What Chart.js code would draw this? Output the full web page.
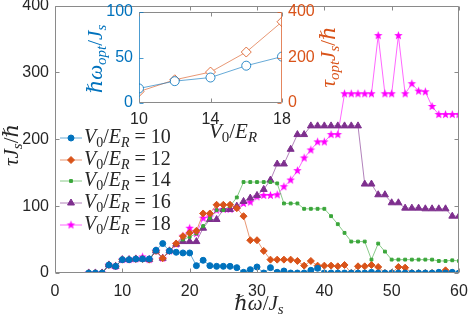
<!DOCTYPE html>
<html>
<head>
<meta charset="utf-8">
<script src="https://cdn.jsdelivr.net/npm/chart.js@4.4.0/dist/chart.umd.min.js"></script>
<style>
  html, body { margin: 0; padding: 0; background: #fff; }
  #wrap { position: relative; width: 469px; height: 315px; }
  #wrap canvas { position: absolute; left: 0; top: 0; }
</style>
</head>
<body>
<div id="wrap">
  <canvas id="main" width="469" height="315"></canvas>
  <canvas id="inset" width="469" height="315"></canvas>
</div>
<script>
// Data (tau J_s / hbar vs hbar omega / J_s)

const omega = [5, 6, 7, 8, 9, 10, 11, 12, 13, 14, 15, 16, 17, 18, 19, 20, 21, 22, 23, 24,
  25, 26, 27, 28, 29, 30, 31, 32, 33, 34, 35, 36, 37, 38, 39, 40, 41, 42, 43, 44,
  45, 46, 47, 48, 49, 50, 51, 52, 53, 54, 55, 56, 57, 58, 59, 60];

const tauV10 = [0, 0, 0, 12, 10, 20, 20, 21, 21, 21, 34, 44, 33, 31, 30, 30, 11, 19, 11, 10,
  10, 10, 8, 1, 5, 9, 0, 8, 1, 3, 0, 0, 0, 4, 7, 0, 0, 0, 0, 0,
  0, 0, 1, 0, 0, 0, 0, 0, 0, 0, 0, 0, 1, 0, 1, 0];

const tauV12 = [0, 0, 0, 12, 10, 20, 20, 21, 21, 20, 33, 22, 33, 44, 55, 60, 63, 89, 89, 102,
  102, 102, 97, 85, 49, 49, 33, 20, 20, 20, 20, 18, 11, 18, 11, 11, 11, 10, 12, 0,
  10, 10, 12, 9, 0, 0, 9, 8, 0, 0, 0, 0, 0, 4, 0, 0];

const tauV14 = [0, 0, 0, 12, 10, 20, 20, 21, 21, 20, 33, 22, 33, 44, 50, 54, 59, 70, 82, 94,
  94, 100, 113, 136, 136, 136, 136, 136, 134, 104, 104, 104, 96, 96, 96, 96, 85, 73, 60, 47,
  47, 47, 20, 44, 32, 20, 20, 20, 20, 20, 20, 20, 18, 18, 19, 18];

const tauV16 = [0, 0, 0, 12, 10, 20, 20, 21, 21, 20, 33, 22, 33, 43, 47, 47, 47, 67, 80, 80,
  95, 95, 100, 107, 112, 116, 125, 139, 163, 163, 185, 207, 207, 220, 220, 220, 220, 220, 220, 220,
  220, 133, 133, 117, 117, 105, 105, 97, 97, 97, 96, 96, 96, 96, 85, 85];

const tauV18 = [0, 0, 0, 12, 10, 20, 20, 21, 24, 20, 33, 22, 33, 43, 55, 67, 59, 82, 84, 94,
  95, 95, 98, 104, 106, 114, 116, 116, 117, 129, 139, 153, 172, 184, 196, 196, 207, 207, 268, 268,
  268, 268, 268, 355, 268, 268, 355, 268, 283, 272, 271, 249, 237, 237, 237, 237];

// inset: optimum vs lattice depth
const insetV0 = [10, 12, 14, 16, 18];
const insetOmegaOpt = [16, 24, 28, 41, 51];
const insetTauOpt = [50, 102, 136, 224, 357];

const legendValues = ['10', '12', '14', '16', '18'];

const BLUE = '#0072BD';
const ORANGE = '#D95319';
const GREEN = '#3AA63A';
const PURPLE = '#7E2F8E';
const MAGENTA = '#FF00FF';
const AXIS = '#262626';
const SERIF = "'Liberation Serif', 'DejaVu Serif', serif";
const SANS = "'Liberation Sans', Arial, sans-serif";

function fade(hex, a) {
    const n = parseInt(hex.slice(1), 16);
    return 'rgba(' + (n >> 16) + ',' + ((n >> 8) & 255) + ',' + (n & 255) + ',' + a + ')';
}

function makeStar(color, r) {
    const c = document.createElement('canvas');
    const s = Math.ceil(2 * r + 2);
    c.width = s;
    c.height = s;
    const g = c.getContext('2d');
    g.fillStyle = color;
    g.beginPath();
    for (let i = 0; i < 10; i++) {
        const ang = -Math.PI / 2 + i * Math.PI / 5;
        const rad = i % 2 ? r * 0.42 : r;
        g.lineTo(s / 2 + rad * Math.cos(ang), s / 2 + rad * Math.sin(ang));
    }
    g.closePath();
    g.fill();
    return c;
}

function pts(ys) {
    return omega.map((w, i) => ({ x: w, y: ys[i] }));
}

// simple TeX-like text: parts are [text, style], style i / r / sub / subr
function partFont(style, size) {
    const sub = style === 'sub' || style === 'subr';
    const it = style === 'i' || style === 'sub';
    return (it ? 'italic ' : '') + (sub ? Math.round(size * 0.7) : size) + 'px ' + SERIF;
}

function mathWidth(ctx, parts, size) {
    let w = 0;
    parts.forEach(p => {
        ctx.font = partFont(p[1], size);
        w += ctx.measureText(p[0]).width;
    });
    return w;
}

function drawMath(ctx, parts, x, y, size, color, align, rotate) {
    ctx.save();
    ctx.translate(x, y);
    if (rotate) ctx.rotate(-Math.PI / 2);
    ctx.fillStyle = color;
    ctx.textBaseline = 'middle';
    ctx.textAlign = 'left';
    const w = mathWidth(ctx, parts, size);
    let cx = align === 'left' ? 0 : -w / 2;
    parts.forEach(p => {
        ctx.font = partFont(p[1], size);
        const sub = p[1] === 'sub' || p[1] === 'subr';
        ctx.fillText(p[0], cx, sub ? size * 0.28 : 0);
        cx += ctx.measureText(p[0]).width;
    });
    ctx.restore();
}

const starImg = makeStar(MAGENTA, 4.5);

const series = [
    { data: tauV10, color: BLUE, style: 'circle', r: 3 },
    { data: tauV12, color: ORANGE, style: 'rectRot', r: 3.5 },
    { data: tauV14, color: GREEN, style: 'rect', r: 2 },
    { data: tauV16, color: PURPLE, style: 'triangle', r: 4 },
    { data: tauV18, color: MAGENTA, style: starImg, r: 4.5 }
];

// frame with inward ticks, MATLAB style
function drawFrame(chart, xs, ys, colors) {
    const ctx = chart.ctx;
    const a = chart.chartArea;
    const L = 4;
    ctx.save();
    ctx.lineWidth = 1;
    const seg = (c, x1, y1, x2, y2) => {
        ctx.strokeStyle = c;
        ctx.beginPath();
        ctx.moveTo(x1, y1);
        ctx.lineTo(x2, y2);
        ctx.stroke();
    };
    const l = Math.round(a.left) + 0.5, r = Math.round(a.right) - 0.5;
    const t = Math.round(a.top) + 0.5, b = Math.round(a.bottom) - 0.5;
    seg(colors.top, l, t, r, t);
    seg(colors.bottom, l, b, r, b);
    seg(colors.left, l, t, l, b);
    seg(colors.right, r, t, r, b);
    const sx = chart.scales.x;
    xs.forEach(v => {
        const px = Math.round(sx.getPixelForValue(v)) + 0.5;
        seg(colors.bottom, px, b, px, b - L);
        seg(colors.top, px, t, px, t + L);
    });
    ys.forEach(([scaleId, v, side]) => {
        const py = Math.round(chart.scales[scaleId].getPixelForValue(v)) + 0.5;
        if (side !== 'right') seg(colors.left, l, py, l + L, py);
        if (side !== 'left') seg(colors.right, r, py, r - L, py);
    });
    ctx.restore();
}

const mainDecor = {
    id: 'mainDecor',
    afterDatasetsDraw(chart) {
        const ctx = chart.ctx;
        drawFrame(chart, [0, 10, 20, 30, 40, 50, 60],
            [0, 100, 200, 300, 400].map(v => ['y', v, 'both']),
            { top: '#8a8a8a', bottom: '#8a8a8a', left: '#8a8a8a', right: '#8a8a8a' });

        // axis titles
        drawMath(ctx, [['τ', 'i'], ['J', 'i'], ['s', 'sub'], ['/', 'r'], ['ℏ', 'i']],
            12, 145, 21, AXIS, 'center', true);
        drawMath(ctx, [['ℏ', 'i'], ['ω', 'i'], ['/', 'r'], ['J', 'i'], ['s', 'sub']],
            259, 304, 21, AXIS, 'center', false);

        // legend
        const ly = [138, 160, 181, 203, 225];
        chart.data.datasets.forEach((ds, i) => {
            const y = ly[i];
            ctx.save();
            ctx.strokeStyle = ds.borderColor;
            ctx.lineWidth = 1;
            ctx.beginPath();
            ctx.moveTo(60, y);
            ctx.lineTo(82, y);
            ctx.stroke();
            ctx.fillStyle = ds.pointBackgroundColor;
            ctx.strokeStyle = ds.pointBorderColor;
            ctx.lineWidth = 1;
            Chart.helpers.drawPoint(ctx, { pointStyle: ds.pointStyle, radius: ds.pointRadius, borderWidth: 1, rotation: 0 }, 71, y);
            ctx.restore();
            drawMath(ctx, [['V', 'i'], ['0', 'subr'], ['/', 'r'], ['E', 'i'], ['R', 'sub'],
                [' = ', 'r'], [legendValues[i], 'r']], 84, y, 20, AXIS, 'left', false);
        });
    }
};

new Chart(document.getElementById('main'), {
    type: 'line',
    data: {
        datasets: series.map(s => ({
            data: pts(s.data),
            borderColor: fade(s.color, 0.6),
            borderWidth: 1,
            pointStyle: s.style,
            pointRadius: s.r,
            pointBackgroundColor: s.color,
            pointBorderColor: s.color,
            pointBorderWidth: 1,
            tension: 0
        }))
    },
    options: {
        responsive: false,
        animation: false,
        events: [],
        layout: { padding: { top: 5, right: 10, left: 0, bottom: 0 } },
        plugins: { legend: { display: false }, tooltip: { enabled: false } },
        scales: {
            x: {
                type: 'linear', min: 0, max: 60,
                grid: { display: false, drawTicks: false },
                border: { display: false },
                ticks: { stepSize: 10, padding: 9, color: AXIS, font: { family: SANS, size: 16 } },
                afterFit: s => { s.height = 42; s.paddingLeft = 0; s.paddingRight = 0; }
            },
            y: {
                min: 0, max: 400,
                grid: { display: false, drawTicks: false },
                border: { display: false },
                ticks: { stepSize: 100, padding: 6, color: AXIS, font: { family: SANS, size: 16 } },
                afterFit: s => { s.width = 55; s.paddingTop = 0; s.paddingBottom = 0; }
            }
        }
    },
    plugins: [mainDecor]
});

const insetDecor = {
    id: 'insetDecor',
    beforeDatasetsDraw(chart) {
        const a = chart.chartArea;
        chart.ctx.save();
        chart.ctx.fillStyle = '#ffffff';
        chart.ctx.fillRect(a.left, a.top, a.right - a.left, a.bottom - a.top);
        chart.ctx.restore();
    },
    afterDatasetsDraw(chart) {
        const ctx = chart.ctx;
        drawFrame(chart, [10, 14, 18],
            [['y', 0, 'left'], ['y', 50, 'left'], ['y', 100, 'left'],
             ['y1', 0, 'right'], ['y1', 200, 'right'], ['y1', 400, 'right']],
            { top: '#8a8a8a', bottom: '#8a8a8a', left: fade(BLUE, 0.7), right: fade(ORANGE, 0.7) });

        drawMath(ctx, [['ℏ', 'i'], ['ω', 'i'], ['opt', 'sub'], ['/', 'r'], ['J', 'i'], ['s', 'sub']],
            96, 59, 21, BLUE, 'center', true);
        drawMath(ctx, [['τ', 'i'], ['opt', 'sub'], ['J', 'i'], ['s', 'sub'], ['/', 'r'], ['ℏ', 'i']],
            329, 57, 21, ORANGE, 'center', true);
        drawMath(ctx, [['V', 'i'], ['0', 'subr'], ['/', 'r'], ['E', 'i'], ['R', 'sub']],
            233, 132, 21, AXIS, 'center', false);
    }
};

new Chart(document.getElementById('inset'), {
    type: 'line',
    data: {
        datasets: [
            {
                data: insetV0.map((v, i) => ({ x: v, y: insetOmegaOpt[i] })),
                yAxisID: 'y',
                borderColor: fade(BLUE, 0.6),
                borderWidth: 1,
                pointStyle: 'circle',
                pointRadius: 4.5,
                pointBackgroundColor: '#ffffff',
                pointBorderColor: fade(BLUE, 0.8),
                pointBorderWidth: 1
            },
            {
                data: insetV0.map((v, i) => ({ x: v, y: insetTauOpt[i] })),
                yAxisID: 'y1',
                borderColor: fade(ORANGE, 0.6),
                borderWidth: 1,
                pointStyle: 'rectRot',
                pointRadius: 5,
                pointBackgroundColor: '#ffffff',
                pointBorderColor: fade(ORANGE, 0.8),
                pointBorderWidth: 1
            }
        ]
    },
    options: {
        responsive: false,
        animation: false,
        events: [],
        layout: { padding: { top: 12, right: 0, left: 0, bottom: 0 } },
        plugins: { legend: { display: false }, tooltip: { enabled: false } },
        scales: {
            x: {
                type: 'linear', min: 10, max: 18,
                grid: { display: false, drawTicks: false },
                border: { display: false },
                ticks: { stepSize: 4, padding: 7, color: AXIS, font: { family: SANS, size: 16 } },
                afterFit: s => { s.height = 212; s.paddingLeft = 0; s.paddingRight = 0; }
            },
            y: {
                position: 'left', min: 0, max: 100,
                grid: { display: false, drawTicks: false },
                border: { display: false },
                ticks: { stepSize: 50, padding: 6, color: BLUE, font: { family: SANS, size: 16 } },
                afterFit: s => { s.width = 139; s.paddingTop = 0; s.paddingBottom = 0; }
            },
            y1: {
                position: 'right', min: 0, max: 400,
                grid: { display: false, drawTicks: false },
                border: { display: false },
                ticks: { stepSize: 200, padding: 6, color: ORANGE, font: { family: SANS, size: 16 } },
                afterFit: s => { s.width = 187; s.paddingTop = 0; s.paddingBottom = 0; }
            }
        }
    },
    plugins: [insetDecor]
});
</script>
</body>
</html>
